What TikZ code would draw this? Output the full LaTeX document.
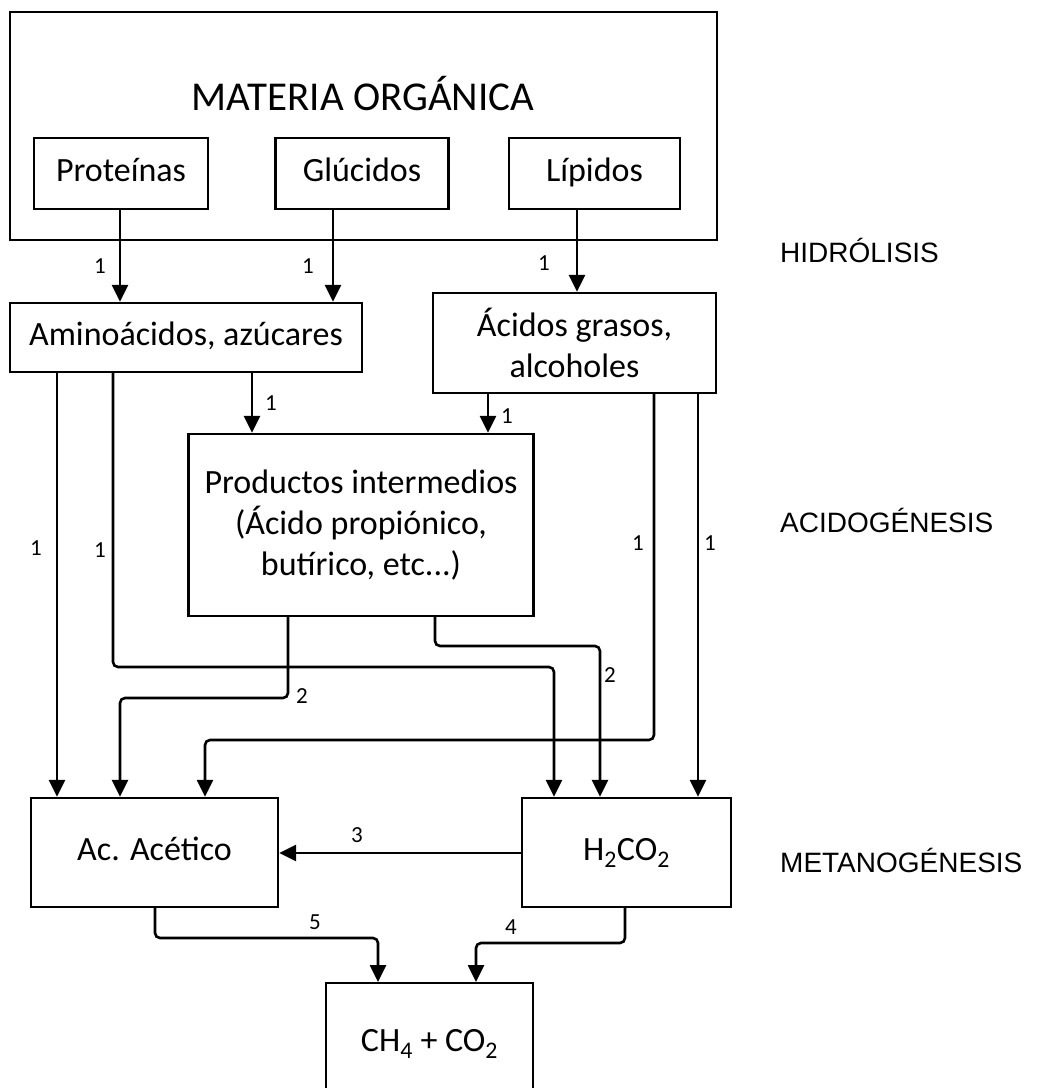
\documentclass[tikz,border=0pt]{standalone}
\usepackage{fontspec}
\setmainfont{Carlito}
\newfontfamily\arialf{Liberation Sans}
\usetikzlibrary{arrows.meta}
\begin{document}
\begin{tikzpicture}[x=1pt,y=-1pt,
  box/.style={draw,line width=2.3pt,inner sep=0pt,align=center,font=\fontsize{34}{41}\selectfont},
  sl/.style={text height=25pt,text depth=8.6pt},
  arr/.style={-{Triangle[length=17pt,width=16pt]},line width=2.6pt},
  lbl/.style={font=\fontsize{23}{23}\selectfont,inner sep=0pt},
  stage/.style={font=\arialf\fontsize{28}{28}\selectfont,anchor=west,inner sep=0pt}]
\useasboundingbox (0,0) rectangle (1042,1088);
% boxes
\node[box,minimum width=707pt,minimum height=228pt] (mo) at (363.5,126) {};
\node[font=\fontsize{41}{41}\selectfont,inner sep=0pt] (title) at (363,94) {MATERIA ORGÁNICA};
\node[box,sl,minimum width=174pt,minimum height=71pt] (prot) at (121,173.5) {Proteínas};
\node[box,sl,minimum width=173pt,minimum height=71pt] (gluc) at (362,173.5) {Glúcidos};
\node[box,sl,minimum width=171pt,minimum height=71pt] (lip) at (594.5,173.5) {Lípidos};
\node[box,sl,minimum width=352pt,minimum height=69pt] (amino) at (186,337.5) {Aminoácidos, azúcares};
\node[box,minimum width=283pt,minimum height=100pt] (acid) at (574.5,343) {Ácidos grasos,\\alcoholes};
\node[box,minimum width=345pt,minimum height=182pt] (prod) at (361,525) {Productos intermedios\\(Ácido propiónico,\\butírico, etc...)};
\node[box,sl,minimum width=247pt,minimum height=109pt] (acet) at (154.5,852.5) {Ac. Acético};
\node[box,sl,minimum width=209pt,minimum height=109pt] (h2) at (626.5,852.5) {H\textsubscript{2}CO\textsubscript{2}};
\node[box,sl,minimum width=207pt,minimum height=120pt,anchor=north] (ch4) at (429.5,982) {CH\textsubscript{4} + CO\textsubscript{2}};
% stage labels
\node[stage] (hid) at (780,250) {HIDRÓLISIS};
\node[stage] (aci) at (780,520) {ACIDOGÉNESIS};
\node[stage] (met) at (780,860) {METANOGÉNESIS};
% column / row coordinates
\coordinate (x57) at (57,0);
\coordinate (x113) at (113,0);
\coordinate (x120) at (120,0);
\coordinate (x155) at (155,0);
\coordinate (x205) at (205,0);
\coordinate (x252) at (252,0);
\coordinate (x288) at (288,0);
\coordinate (x333) at (333,0);
\coordinate (x378) at (378,0);
\coordinate (x435) at (435,0);
\coordinate (x476) at (476,0);
\coordinate (x488) at (488,0);
\coordinate (x554) at (554,0);
\coordinate (x577) at (577,0);
\coordinate (x600) at (600,0);
\coordinate (x625) at (625,0);
\coordinate (x654) at (654,0);
\coordinate (x698) at (698,0);
\coordinate (y646) at (0,646);
\coordinate (y667) at (0,667);
\coordinate (y698) at (0,698);
\coordinate (y740) at (0,740);
\coordinate (y853) at (0,853);
\coordinate (y938) at (0,938);
\coordinate (y943) at (0,943);
% connectors
\draw[arr] (x120 |- prot.south) -- (x120 |- amino.north);
\draw[arr] (x333 |- gluc.south) -- (x333 |- amino.north);
\draw[arr] (x577 |- lip.south) -- (x577 |- acid.north);
\draw[arr] (x252 |- amino.south) -- (x252 |- prod.north);
\draw[arr] (x488 |- acid.south) -- (x488 |- prod.north);
\draw[arr] (x57 |- amino.south) -- (x57 |- acet.north);
\draw[arr,rounded corners=5pt] (x113 |- amino.south) -- (x113 |- y667) -- (x554 |- y667) -- (x554 |- h2.north);
\draw[arr,rounded corners=5pt] (x288 |- prod.south) -- (x288 |- y698) -- (x120 |- y698) -- (x120 |- acet.north);
\draw[arr,rounded corners=5pt] (x435 |- prod.south) -- (x435 |- y646) -- (x600 |- y646) -- (x600 |- h2.north);
\draw[arr,rounded corners=5pt] (x654 |- acid.south) -- (x654 |- y740) -- (x205 |- y740) -- (x205 |- acet.north);
\draw[arr] (x698 |- acid.south) -- (x698 |- h2.north);
\draw[arr] (h2.west |- y853) -- (acet.east |- y853);
\draw[arr,rounded corners=5pt] (x155 |- acet.south) -- (x155 |- y938) -- (x378 |- y938) -- (x378 |- ch4.north);
\draw[arr,rounded corners=5pt] (x625 |- h2.south) -- (x625 |- y943) -- (x476 |- y943) -- (x476 |- ch4.north);
% connector labels
\node[lbl] (l1) at (100,266) {1};
\node[lbl] (l2) at (308,266) {1};
\node[lbl] (l3) at (544,263) {1};
\node[lbl] (l4) at (271,403) {1};
\node[lbl] (l5) at (507,416) {1};
\node[lbl] (l6) at (36,548) {1};
\node[lbl] (l7) at (100,550) {1};
\node[lbl] (l8) at (638,543) {1};
\node[lbl] (l9) at (710,543) {1};
\node[lbl] (l10) at (302,696) {2};
\node[lbl] (l11) at (610,675) {2};
\node[lbl] (l12) at (357,835) {3};
\node[lbl] (l13) at (315,922) {5};
\node[lbl] (l14) at (511,927) {4};
\end{tikzpicture}
\end{document}
